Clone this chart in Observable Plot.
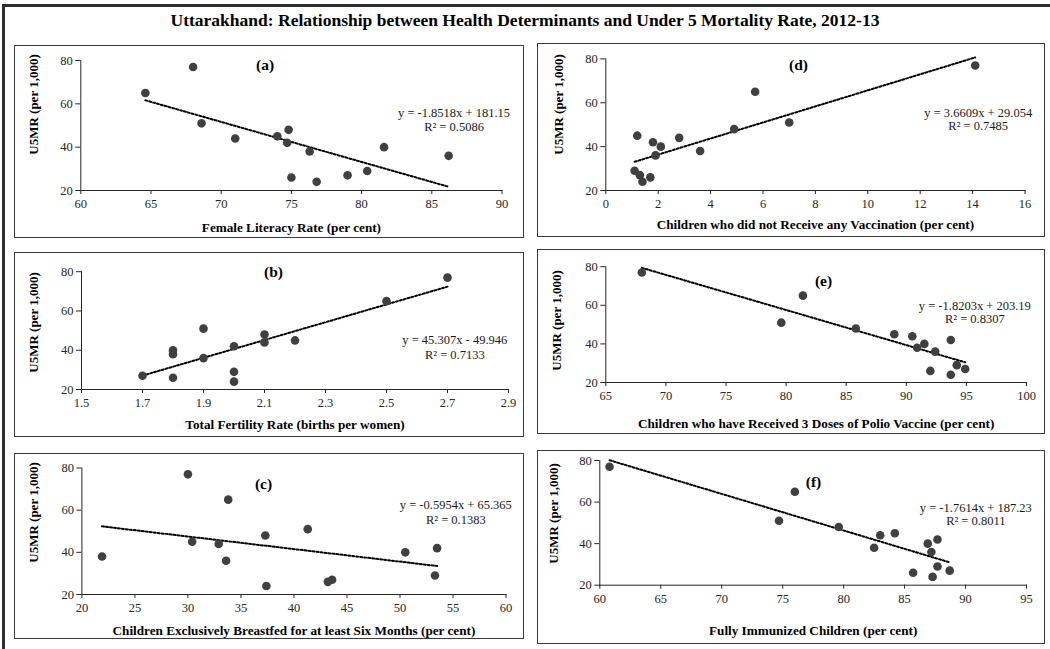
<!DOCTYPE html>
<html><head><meta charset="utf-8">
<script src="https://cdn.jsdelivr.net/npm/d3@7"></script>
<script src="https://cdn.jsdelivr.net/npm/@observablehq/plot@0.6"></script>
<style>
body{margin:0;background:#fff;font-family:"Liberation Serif","Times New Roman",serif;}
#page{position:relative;width:1050px;height:649px;overflow:hidden;background:#fff}
.outer{position:absolute;left:2px;top:4px;width:1100px;height:700px;border:3px solid #2e2e2e;box-sizing:border-box}
.title{position:absolute;left:0;width:1050px;top:9px;line-height:22px;text-align:center;font-weight:bold;font-size:17.5px;color:#000}
.box{position:absolute;border:1px solid #3a3a3a;box-sizing:border-box;background:#fff}
.panel{position:absolute}
.panel svg{overflow:visible}
</style></head><body><div id="page"></div>
<script>
// ---------- data ----------
const chartTitle = "Uttarakhand: Relationship between Health Determinants and Under 5 Mortality Rate, 2012-13";
const u5mr = [77, 65, 51, 48, 45, 44, 42, 40, 38, 36, 29, 27, 26, 24];
const femaleLiteracy = [68.0, 64.6, 68.6, 74.8, 74.0, 71.0, 74.7, 81.6, 76.3, 86.2, 80.4, 79.0, 75.0, 76.8];
const fertility = [2.7, 2.5, 1.9, 2.1, 2.2, 2.1, 2.0, 1.8, 1.8, 1.9, 2.0, 1.7, 1.8, 2.0];
const breastfed = [30.0, 33.8, 41.3, 37.3, 30.4, 32.9, 53.5, 50.5, 21.9, 33.6, 53.3, 43.6, 43.2, 37.4];
const noVaccination = [14.1, 5.7, 7.0, 4.9, 1.2, 2.8, 1.8, 2.1, 3.6, 1.9, 1.1, 1.3, 1.7, 1.4];
const polio3 = [68.0, 81.4, 79.6, 85.8, 89.0, 90.5, 93.7, 91.5, 90.9, 92.4, 94.2, 94.9, 92.0, 93.7];
const fullyImmunized = [60.8, 76.0, 74.7, 79.6, 84.2, 83.0, 87.7, 86.9, 82.5, 87.2, 87.7, 88.7, 85.7, 87.3];

const panelLetters = ["(a)", "(b)", "(c)", "(d)", "(e)", "(f)"];
const xTitles = [
  "Female Literacy Rate (per cent)",
  "Total Fertility Rate (births per women)",
  "Children Exclusively Breastfed for at least Six Months (per cent)",
  "Children who did not Receive any Vaccination (per cent)",
  "Children who have Received 3 Doses of Polio Vaccine (per cent)",
  "Fully Immunized Children (per cent)"
];
const yTitle = "U5MR (per 1,000)";
const equations = [
  "y = -1.8518x + 181.15",
  "y = 45.307x - 49.946",
  "y = -0.5954x + 65.365",
  "y = 3.6609x + 29.054",
  "y = -1.8203x + 203.19",
  "y = -1.7614x + 187.23"
];
const rSquared = ["R² = 0.5086", "R² = 0.7133", "R² = 0.1383", "R² = 0.7485", "R² = 0.8307", "R² = 0.8011"];
const xTickValues = [
  [60, 65, 70, 75, 80, 85, 90],
  [1.5, 1.7, 1.9, 2.1, 2.3, 2.5, 2.7, 2.9],
  [20, 25, 30, 35, 40, 45, 50, 55, 60],
  [0, 2, 4, 6, 8, 10, 12, 14, 16],
  [65, 70, 75, 80, 85, 90, 95, 100],
  [60, 65, 70, 75, 80, 85, 90, 95]
];
const yTickValues = [20, 40, 60, 80];
const xSeries = [femaleLiteracy, fertility, breastfed, noVaccination, polio3, fullyImmunized];

// ---------- layout (page pixels) ----------
// box: [left, top, right, bottom]; plot: [xLeft, xRight, yTop, yBottom]
const layout = [
  {box:[14,45,524,238],  plot:[80.3,501.5,60,190],    letter:[264.5,65],  eq:[453.5,112,126], xt:227,  yt:[33.5,104]},
  {box:[14,252,524,437], plot:[81,508,271.2,389],     letter:[273,272],   eq:[454.3,339,354], xt:424,  yt:[33.5,322]},
  {box:[14,453,524,639], plot:[81.4,505.5,467.5,594], letter:[263,483.6], eq:[455.3,504,519], xt:630,  yt:[33.5,512]},
  {box:[537,43,1045,237],plot:[605.3,1024.5,58.4,190],letter:[798,65],    eq:[977.7,112,125], xt:224,  yt:[558.5,104]},
  {box:[537,249,1045,434],plot:[605.3,1026,266.2,382],letter:[823,281],   eq:[974.3,305,318], xt:423,  yt:[556.8,320]},
  {box:[537,450,1045,644],plot:[599.3,1026,460,584.7],letter:[813,482],   eq:[975.3,507,520], xt:630,  yt:[553.5,513]}
];

const page = document.getElementById("page");
const outer = document.createElement("div"); outer.className = "outer"; page.appendChild(outer);
const t = document.createElement("div"); t.className = "title"; t.textContent = chartTitle; page.appendChild(t);

layout.forEach((L, i) => {
  const [bl, bt, br, bb] = L.box;
  const [x0, x1, y0, y1] = L.plot;
  const w = br - bl, h = bb - bt;
  const box = document.createElement("div");
  box.className = "box";
  Object.assign(box.style, {left: bl + "px", top: bt + "px", width: w + "px", height: h + "px"});
  page.appendChild(box);

  const data = u5mr.map((y, k) => ({x: xSeries[i][k], y}));
  const ticks = xTickValues[i];
  const eqMid = (L.eq[1] + L.eq[2]) / 2;
  const eqFont = 12.5;
  const svg = Plot.plot({
    width: w, height: h,
    marginLeft: x0 - bl, marginRight: br - x1, marginTop: y0 - bt, marginBottom: bb - y1,
    style: {fontFamily: '"Liberation Serif", "Times New Roman", serif', fontSize: "12.5px", color: "#262626", background: "transparent", overflow: "visible"},
    x: {domain: [ticks[0], ticks[ticks.length - 1]], ticks, tickFormat: i === 1 ? (d => d.toFixed(1)) : (d => String(d)), label: null, line: true, tickSize: 4, tickPadding: 5},
    y: {domain: [20, 80], ticks: yTickValues, label: null, line: true, tickSize: 5, tickPadding: 3},
    marks: [
      Plot.linearRegressionY(data, {x: "x", y: "y", ci: 0, stroke: "#000", strokeWidth: 2, strokeDasharray: "2,2"}),
      Plot.dot(data, {x: "x", y: "y", r: 4.3, fill: "#404040", stroke: "none"}),
      Plot.text([panelLetters[i]], {frameAnchor: "top-left", dx: L.letter[0] - x0, dy: L.letter[1] - y0, textAnchor: "middle", lineAnchor: "middle", fontWeight: "bold", fontSize: 15.5, fill: "#000"}),
      Plot.text([equations[i] + "\n" + rSquared[i]], {frameAnchor: "top-left", dx: L.eq[0] - x0, dy: eqMid - y0, textAnchor: "middle", lineAnchor: "middle", fontSize: eqFont, lineHeight: (L.eq[2] - L.eq[1]) / eqFont, fill: "#1a1a1a"}),
      Plot.text([xTitles[i]], {frameAnchor: "bottom", dy: L.xt - y1, textAnchor: "middle", lineAnchor: "middle", fontWeight: "bold", fontSize: 13.2, fill: "#000"}),
      Plot.text([yTitle], {frameAnchor: "left", rotate: -90, dx: L.yt[0] - x0, dy: L.yt[1] - (y0 + y1) / 2, textAnchor: "middle", lineAnchor: "middle", fontWeight: "bold", fontSize: 13, fill: "#000"})
    ]
  });
  const holder = document.createElement("div");
  holder.className = "panel";
  Object.assign(holder.style, {left: bl + "px", top: bt + "px", width: w + "px", height: h + "px"});
  holder.appendChild(svg);
  page.appendChild(holder);
});
</script>
</body></html>
